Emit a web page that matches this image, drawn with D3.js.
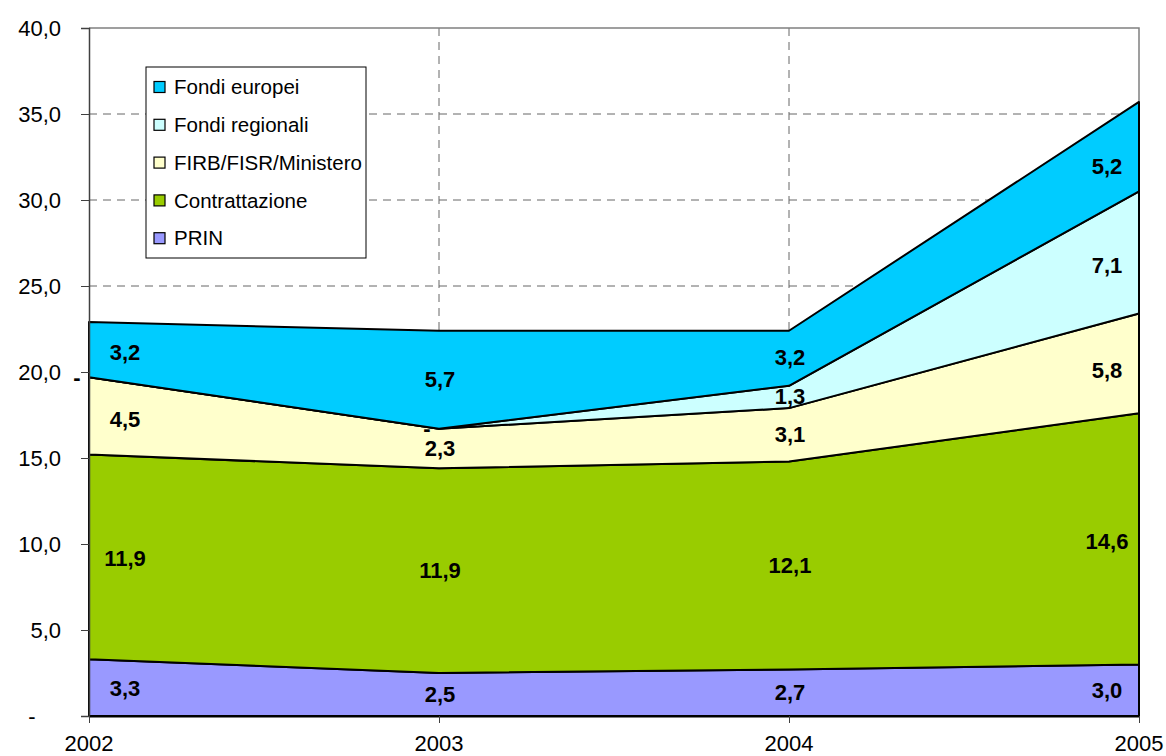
<!DOCTYPE html>
<html>
<head>
<meta charset="utf-8">
<script src="https://cdn.jsdelivr.net/npm/d3@7"></script>
<style>
  body { margin: 0; background: #fff; }
  svg text { font-family: Arial, "Liberation Sans", sans-serif; }
</style>
</head>
<body>
<div id="chart"></div>
<script>
// dati
const years = ['2002', '2003', '2004', '2005']
const prin = [3.3, 2.5, 2.7, 3.0]
const contrattazione = [11.9, 11.9, 12.1, 14.6]
const firb = [4.5, 2.3, 3.1, 5.8]
const regionali = [0, 0, 1.3, 7.1]
const europei = [3.2, 5.7, 3.2, 5.2]
const yTicks = [0, 5, 10, 15, 20, 25, 30, 35, 40]

const series = [
  { key: 'PRIN', values: prin, color: '#9999FF' },
  { key: 'Contrattazione', values: contrattazione, color: '#99CC00' },
  { key: 'FIRB/FISR/Ministero', values: firb, color: '#FFFFCC' },
  { key: 'Fondi regionali', values: regionali, color: '#CCFFFF' },
  { key: 'Fondi europei', values: europei, color: '#00CCFF' }
]

let width = 1166
let height = 756
let mLeft = 89, mRight = 1139, mTop = 28, mBottom = 716

let rows = years.map((y, i) => {
  let r = { year: y }
  series.forEach(s => { r[s.key] = s.values[i] })
  return r
})
let stacked = d3.stack().keys(series.map(s => s.key))(rows)

let xScale = d3.scalePoint(years, [mLeft, mRight])
let yScale = d3.scaleLinear([0, 40], [mBottom, mTop])

let svg = d3.select('#chart').append('svg')
  .attr('width', width)
  .attr('height', height)

let fmt = v => v === 0 ? '-' : d3.format('.1f')(v).replace('.', ',')

// griglia
let g = svg.append('g')
g.selectAll('.hgrid').data(yTicks.filter(t => t > 0 && t < 40)).enter().append('line')
  .attr('x1', mLeft).attr('x2', mRight)
  .attr('y1', d => yScale(d)).attr('y2', d => yScale(d))
  .attr('stroke', '#666').attr('stroke-dasharray', '8,6').attr('stroke-width', 1)
g.selectAll('.vgrid').data(years.slice(1, 3)).enter().append('line')
  .attr('x1', d => xScale(d)).attr('x2', d => xScale(d))
  .attr('y1', mTop).attr('y2', mBottom)
  .attr('stroke', '#666').attr('stroke-dasharray', '8,6').attr('stroke-width', 1)
// bordo
g.append('path')
  .attr('d', `M${mLeft},${mTop}H${mRight}V${mBottom}`)
  .attr('fill', 'none').attr('stroke', '#808080').attr('stroke-width', 1.5)

// aree
let area = d3.area()
  .x(d => xScale(d.data.year))
  .y0(d => yScale(d[0]))
  .y1(d => yScale(d[1]))
g.selectAll('.area').data(stacked).enter().append('path')
  .attr('d', area)
  .attr('fill', (d, i) => series[i].color)
  .attr('stroke', '#000')
  .attr('stroke-width', 2)
  .attr('stroke-linejoin', 'round')

// assi
g.append('g')
  .attr('transform', `translate(${mLeft},0)`)
  .call(d3.axisLeft(yScale).tickValues(yTicks).tickSize(8).tickFormat(''))
  .call(a => a.select('.domain').attr('stroke', '#404040').attr('stroke-width', 1.5))
  .call(a => a.selectAll('.tick line').attr('stroke', '#404040'))
g.append('g')
  .attr('transform', `translate(0,${mBottom})`)
  .call(d3.axisBottom(xScale).tickSize(7).tickSizeOuter(0).tickFormat(''))
  .call(a => a.select('.domain').attr('stroke', '#000').attr('stroke-width', 2))
  .call(a => a.selectAll('.tick line').attr('stroke', '#404040'))

g.selectAll('.ylab').data(yTicks).enter().append('text')
  .attr('x', d => d === 0 ? 32 : 61)
  .attr('y', d => yScale(d))
  .attr('dy', '0.35em')
  .attr('text-anchor', d => d === 0 ? 'middle' : 'end')
  .attr('font-size', 22)
  .text(fmt)
g.selectAll('.xlab').data(years).enter().append('text')
  .attr('x', d => xScale(d))
  .attr('y', 751)
  .attr('text-anchor', 'middle')
  .attr('font-size', 22)
  .text(d => d)

// etichette dati
let step = xScale.step()
let labelOffset = i => i === 0 ? 36 : (i === years.length - 1 ? -32 : 1)
let bandMid = (layer, i, px) => {
  // centro della banda nel punto x dell'etichetta
  let j = px >= 0 ? Math.min(i + 1, years.length - 1) : Math.max(i - 1, 0)
  let t = Math.abs(px) / step
  let m0 = (layer[i][0] + layer[i][1]) / 2
  let m1 = (layer[j][0] + layer[j][1]) / 2
  return m0 + (m1 - m0) * t
}
let labels = []
stacked.forEach((layer, k) => {
  layer.forEach((d, i) => {
    let v = series[k].values[i]
    let off = labelOffset(i)
    if (v === 0) {
      labels.push({ x: xScale(years[i]) - 12, y: yScale(d[1]), text: '-' })
    } else {
      labels.push({ x: xScale(years[i]) + off, y: yScale(bandMid(layer, i, off)), text: fmt(v) })
    }
  })
})
g.selectAll('.dlab').data(labels).enter().append('text')
  .attr('x', d => d.x)
  .attr('y', d => d.y)
  .attr('dy', '0.35em')
  .attr('text-anchor', 'middle')
  .attr('font-size', 22)
  .attr('font-weight', 'bold')
  .text(d => d.text)

// legenda
let legend = svg.append('g').attr('transform', 'translate(146,67)')
legend.append('rect')
  .attr('width', 220).attr('height', 191)
  .attr('fill', '#fff').attr('stroke', '#000').attr('stroke-width', 1)
let items = series.slice().reverse()
items.forEach((s, i) => {
  let cy = 20 + i * 37.8
  legend.append('rect')
    .attr('x', 8).attr('y', cy - 5.5)
    .attr('width', 11).attr('height', 11)
    .attr('fill', s.color).attr('stroke', '#000').attr('stroke-width', 1.2)
  legend.append('text')
    .attr('x', 28).attr('y', cy)
    .attr('dy', '0.35em')
    .attr('font-size', 20.5)
    .text(s.key)
})
</script>
</body>
</html>
